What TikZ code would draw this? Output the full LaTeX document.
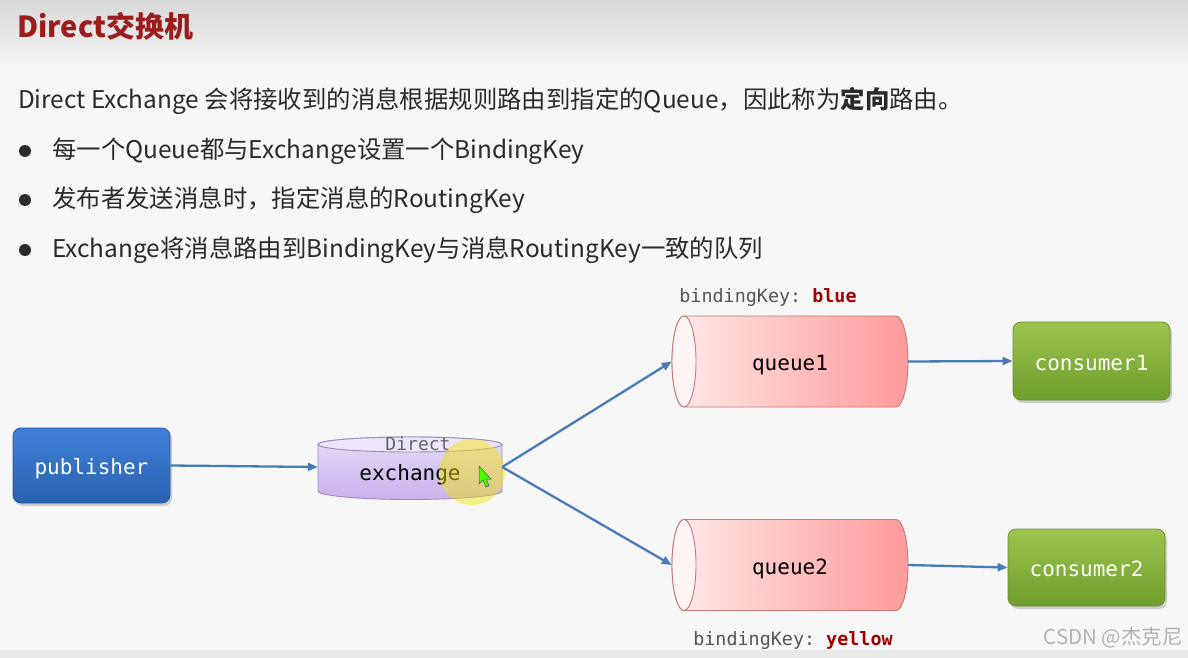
\documentclass[tikz,border=0pt]{standalone}
\usepackage{fontspec}
\setmainfont{Noto Sans CJK SC}
\newfontfamily\cjkfont{Noto Sans CJK SC}
\setmonofont{DejaVu Sans Mono}
\usetikzlibrary{arrows.meta,shadows}
\definecolor{titlered}{HTML}{9A1C1C}
\definecolor{bodytext}{HTML}{2A2A2A}
\definecolor{arrowblue}{HTML}{4A7AB8}
\definecolor{pubtop}{HTML}{3E80D8}
\definecolor{pubbot}{HTML}{2A62B0}
\definecolor{pubdraw}{HTML}{2A5A9E}
\definecolor{contop}{HTML}{9DC44E}
\definecolor{conbot}{HTML}{6E9E2C}
\definecolor{condraw}{HTML}{6A9030}
\definecolor{qleft}{HTML}{FFEAEA}
\definecolor{qright}{HTML}{FF9A9A}
\definecolor{qdraw}{HTML}{C07878}
\definecolor{qend}{HTML}{FFF4F4}
\definecolor{extop}{HTML}{E6DAF8}
\definecolor{exbot}{HTML}{C8B2EC}
\definecolor{exdraw}{HTML}{9C8CBC}
\definecolor{keyred}{HTML}{A00000}
\definecolor{keygray}{HTML}{555555}
\tikzset{
  arrowline/.style={draw=arrowblue, line width=2.3pt, -{Triangle[length=10pt,width=8pt]}},
  boxtext/.style={font=\ttfamily\fontsize{21}{24}\selectfont, text height=20pt, text depth=2pt},
  pubbox/.style={boxtext, rounded corners=8pt, top color=pubtop, bottom color=pubbot, draw=pubdraw, line width=0.8pt,
    minimum width=157pt, minimum height=75pt, text=white,
    drop shadow={opacity=0.35, shadow xshift=2pt, shadow yshift=-3pt}},
  conbox/.style={boxtext, rounded corners=8pt, top color=contop, bottom color=conbot, draw=condraw, line width=0.8pt,
    minimum width=157pt, minimum height=77pt, text=white,
    drop shadow={opacity=0.35, shadow xshift=2pt, shadow yshift=-3pt}},
  qnode/.style={boxtext, minimum width=236pt, minimum height=91pt, inner sep=0pt, text=black},
  qbody/.style={left color=qleft, right color=qright, draw=qdraw, line width=0.9pt},
  qendst/.style={fill=qend, draw=qdraw, line width=0.9pt},
  keylabel/.style={font=\ttfamily\fontsize{18.4}{22}\selectfont, text=keygray},
  bodyline/.style={anchor=west, text=bodytext, font=\fontsize{24.4}{28}\selectfont, inner sep=0pt},
  bulletdot/.style={circle, fill=bodytext, minimum size=12pt, inner sep=0pt},
}
\newcommand\hcylinder[2]{%
  \shade[qbody] ({#1-106},{#2-45.5}) -- ({#1+106},{#2-45.5}) arc (-90:90:12 and 45.5)
     -- ({#1-106},{#2+45.5}) arc (90:270:12 and 45.5) -- cycle;
  \filldraw[qendst] ({#1-106},#2) ellipse [x radius=12, y radius=45.5];
}
\begin{document}
\begin{tikzpicture}[x=1pt,y=-1pt]
\useasboundingbox (0,0) rectangle (1188,658);
\fill[white!97!black] (0,0) rectangle (1188,658);
\shade[top color=black!15, bottom color=black!5] (0,0) rectangle (1188,62);
\fill[black!9] (0,650) rectangle (1188,658);

% title and text
\node[anchor=west, inner sep=0pt, text=titlered, font=\bfseries\fontsize{29}{34}\selectfont] (title) at (17,26) {Direct交换机};
\node[bodyline] (l1) at (18,101) {Direct Exchange 会将接收到的消息根据规则路由到指定的Queue，因此称为\textbf{定向}路由。};
\node[bulletdot] (b1) at (25,151) {};
\node[bodyline] (t1) at (52,151) {每一个Queue都与Exchange设置一个BindingKey};
\node[bulletdot] (b2) at (25,200) {};
\node[bodyline] (t2) at (52,200) {发布者发送消息时，指定消息的RoutingKey};
\node[bulletdot] (b3) at (25,250) {};
\node[bodyline] (t3) at (52,250) {Exchange将消息路由到BindingKey与消息RoutingKey一致的队列};

% publisher
\node[pubbox] (pub) at (91.5,465.5) {publisher};

% exchange cylinder
\shade[top color=extop, bottom color=exbot, draw=exdraw, line width=0.9pt]
  (318,444.5) -- (318,491) arc (180:0:92 and 8.5) -- (502,444.5) arc (0:-180:92 and 7.5) -- cycle;
\filldraw[fill=extop!70!white, draw=exdraw, line width=0.9pt] (410,444.5) ellipse [x radius=92, y radius=7.5];
\node[minimum width=184pt, minimum height=65pt, inner sep=0pt] (ex) at (410,467) {};
\node[font=\ttfamily\fontsize{18}{20}\selectfont, text=black!60, inner sep=0pt] (exd) at (418,444) {Direct};
\node[boxtext, text=black, inner sep=0pt] (ext) at (410,471) {exchange};
% pointer highlight
\fill[yellow!90!olive, opacity=0.45] (472,472) circle [radius=33];
\filldraw[fill=green!70!yellow, draw=black!70, line width=0.5pt]
  (479,466) -- (479,484) -- (483,480) -- (486,487) -- (489,485.5) -- (486,479) -- (491,479) -- cycle;

% queues
\hcylinder{790}{361.5}
\node[qnode] (q1) at (790,361.5) {queue1};
\hcylinder{790}{565}
\node[qnode] (q2) at (790,565) {queue2};

\node[keylabel] (k1) at (768,297) {bindingKey: \textcolor{keyred}{\bfseries blue}};
\node[keylabel] (k2) at (793,640) {bindingKey: \textcolor{keyred}{\bfseries yellow}};

% consumers
\node[conbox, minimum height=78pt] (c1) at (1091.5,361) {consumer1};
\node[conbox] (c2) at (1086.5,567.5) {consumer2};

% connectors
\draw[arrowline] (pub.east) -- (ex.west);
\draw[arrowline] (ex.east) -- (q1.west);
\draw[arrowline] (ex.east) -- (q2.west);
\draw[arrowline] (q1.east) -- (c1.west);
\draw[arrowline] (q2.east) -- (c2.west);

% watermark
\node[anchor=east, inner sep=0pt, text=black!30, font=\fontsize{20.5}{22}\selectfont] (wm) at (1183,638) {CSDN @杰克尼};
\end{tikzpicture}
\end{document}
